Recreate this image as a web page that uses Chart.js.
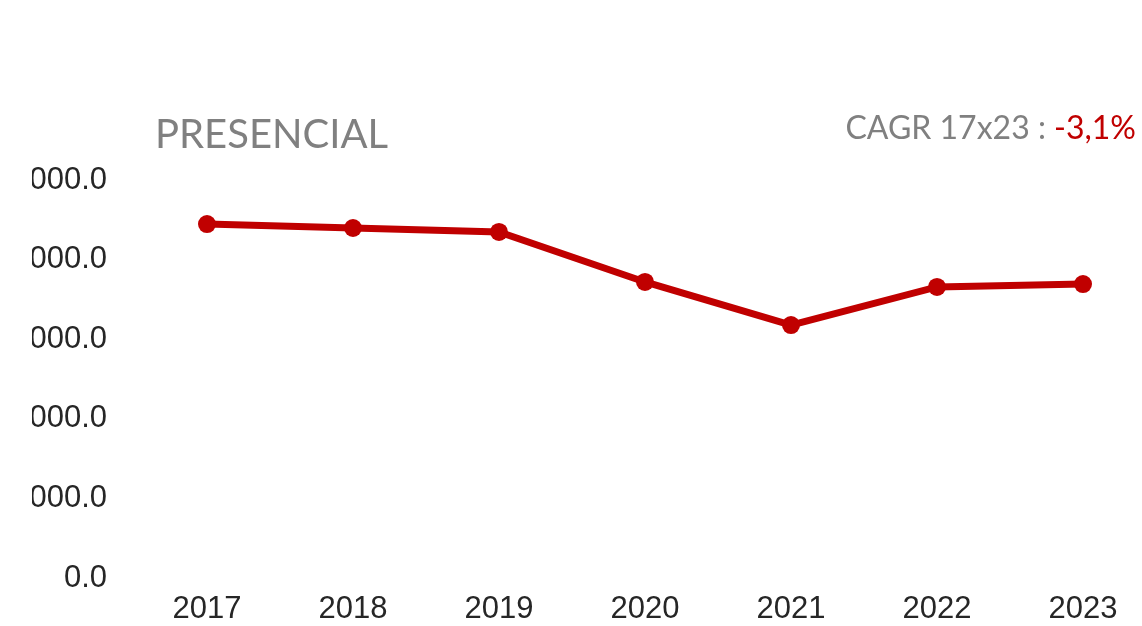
<!DOCTYPE html>
<html>
<head>
<meta charset="utf-8">
<script src="https://cdn.jsdelivr.net/npm/chart.js@4.4.1/dist/chart.umd.min.js"></script>
<style>
  html, body { margin: 0; padding: 0; background: #ffffff; overflow: hidden; }
  #wrap { position: relative; width: 1142px; height: 626px; }
  #box { position: absolute; left: 32px; top: 0; width: 1110px; height: 626px; }
  .title { position: absolute; left: 155px; top: 109px; font-family: Lato, sans-serif; font-size: 40px; line-height: 48px; color: #808080; white-space: nowrap; }
  .cagr { position: absolute; right: 6px; top: 107px; font-family: Lato, sans-serif; font-size: 32px; line-height: 40px; color: #808080; white-space: nowrap; }
  .cagr span { color: #c00000; }
</style>
</head>
<body>
<div id="wrap">
  <div id="box"><canvas id="chart"></canvas></div>
  <div class="title">PRESENCIAL</div>
  <div class="cagr">CAGR 17x23 : <span>-3,1%</span></div>
</div>
<script>
const years = ["2017", "2018", "2019", "2020", "2021", "2022", "2023"];
const presencial = [4447000, 4397000, 4347000, 3719000, 3178000, 3656000, 3693000];
const yTicks = [0, 1000000, 2000000, 3000000, 4000000, 5000000];

const ctx = document.getElementById('chart').getContext('2d');
new Chart(ctx, {
  type: 'line',
  data: {
    labels: years,
    datasets: [{
      data: presencial,
      borderColor: '#c00000',
      backgroundColor: '#c00000',
      borderWidth: 7,
      pointRadius: 9,
      pointHoverRadius: 9,
      pointBackgroundColor: '#c00000',
      pointBorderWidth: 0,
      tension: 0,
      fill: false
    }]
  },
  options: {
    responsive: true,
    maintainAspectRatio: false,
    animation: false,
    layout: { padding: { top: 180, right: 59, bottom: 0, left: 0 } },
    plugins: { legend: { display: false }, tooltip: { enabled: false } },
    scales: {
      x: {
        offset: false,
        grid: { display: false, drawTicks: false },
        border: { display: false },
        ticks: { color: '#262626', font: { family: 'Liberation Sans', size: 31 }, padding: 13, maxRotation: 0 },
        afterFit: (s) => { s.height = 48; }
      },
      y: {
        min: yTicks[0],
        max: yTicks[yTicks.length - 1],
        afterBuildTicks: (s) => { s.ticks = yTicks.map(v => ({ value: v })); },
        grid: { display: false, drawTicks: false },
        border: { display: false },
        ticks: { color: '#262626', font: { family: 'Liberation Sans', size: 31 }, padding: 100, callback: (v) => Number(v).toFixed(1) },
        afterFit: (s) => { s.width = 175; s.paddingTop = 18; s.paddingBottom = 18; }
      }
    }
  }
});
</script>
</body>
</html>
